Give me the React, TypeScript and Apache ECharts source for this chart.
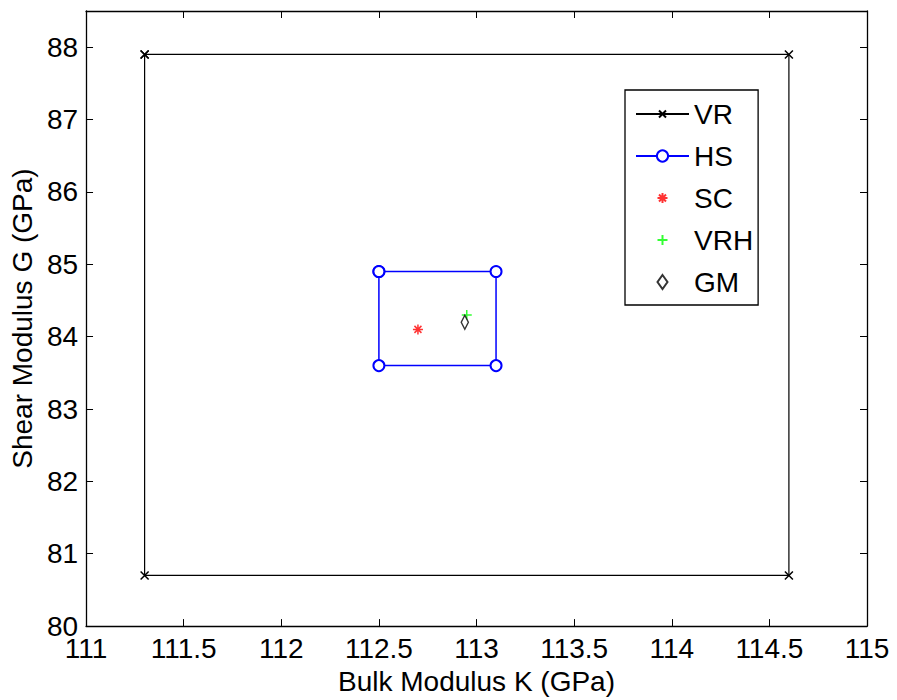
import React, { useEffect, useRef } from "react";
import * as echarts from "echarts";

const FONT = "'Liberation Sans', Arial, Helvetica, sans-serif";
const FS = 28;

const vrK = [111.3, 114.6, 114.6, 111.3, 111.3];
const vrG = [87.9, 87.9, 80.7, 80.7, 87.9];
const hsK = [112.5, 113.1, 113.1, 112.5, 112.5];
const hsG = [84.9, 84.9, 83.6, 83.6, 84.9];
const scPoint = [112.7, 84.1];
const vrhPoint = [112.95, 84.3];
const gmPoint = [112.94, 84.2];

const xMin = 111;
const xMax = 115;
const xStep = 0.5;
const yMin = 80;
const yMax = 88.5;
const yStep = 1;

// invisible moveTo points pad the symbol's bounding box
const X_SYMBOL = "path://M-3,-3M13,13M0,0L10,10M10,0L0,10";
const STAR_SYMBOL = "path://M-2,-2M12,12M5,0L5,10M0,5L10,5M1.5,1.5L8.5,8.5M8.5,1.5L1.5,8.5";
const PLUS_SYMBOL = "path://M-2,-2M12,12M5,0L5,10M0,5L10,5";
const DIAMOND_SYMBOL = "path://M5,0L10,7L5,14L0,7Z";

export default function App() {
  const ref = useRef<HTMLDivElement>(null);
  useEffect(() => {
    if (!ref.current) return;
    const chart = echarts.init(ref.current, undefined, { renderer: "svg" });
    const axisLine = { show: true, lineStyle: { color: "#000", width: 1.3 } };
    const tick = { show: true, inside: true, length: 7, lineStyle: { color: "#000", width: 1 } };
    const zip = (a: number[], b: number[]) => a.map((v, i) => [v, b[i]]);
    chart.setOption({
      animation: false,
      backgroundColor: "#fff",
      grid: { left: 86, top: 11, right: 30, bottom: 72, containLabel: false },
      xAxis: [
        {
          type: "value",
          min: xMin,
          max: xMax,
          interval: xStep,
          position: "bottom",
          name: "Bulk Modulus K (GPa)",
          nameLocation: "middle",
          nameGap: 40,
          nameTextStyle: { fontSize: FS, color: "#000", fontFamily: FONT },
          axisLine,
          axisTick: tick,
          splitLine: { show: false },
          axisLabel: {
            fontSize: FS,
            color: "#000",
            fontFamily: FONT,
            margin: 11,
            lineHeight: 22,
            formatter: (v: number) => String(v),
          },
        },
        {
          type: "value",
          min: xMin,
          max: xMax,
          interval: xStep,
          position: "top",
          axisLine,
          axisTick: tick,
          splitLine: { show: false },
          axisLabel: { show: false },
        },
      ],
      yAxis: [
        {
          type: "value",
          min: yMin,
          max: yMax,
          interval: yStep,
          position: "left",
          name: "Shear Modulus G (GPa)",
          nameLocation: "middle",
          nameGap: 47,
          nameTextStyle: { fontSize: FS, color: "#000", fontFamily: FONT },
          axisLine,
          axisTick: tick,
          splitLine: { show: false },
          axisLabel: {
            fontSize: FS,
            color: "#000",
            fontFamily: FONT,
            margin: 8,
            lineHeight: 20,
            formatter: (v: number) => (Number.isInteger(v) ? String(v) : ""),
          },
        },
        {
          type: "value",
          min: yMin,
          max: yMax,
          interval: yStep,
          position: "right",
          axisLine,
          axisTick: tick,
          splitLine: { show: false },
          axisLabel: { show: false },
        },
      ],
      legend: {
        orient: "vertical",
        left: 625,
        top: 90,
        selectedMode: false,
        backgroundColor: "#fff",
        borderColor: "#000",
        borderWidth: 1.3,
        borderRadius: 0,
        padding: [10, 5, 9, 10],
        itemWidth: 53,
        itemHeight: 14,
        itemGap: 14,
        textStyle: { fontSize: FS, color: "#000", fontFamily: FONT },
        data: ["VR", "HS", "SC", "VRH", "GM"],
      },
      series: [
        {
          name: "VR",
          type: "line",
          data: zip(vrK, vrG),
          symbol: X_SYMBOL,
          symbolSize: 12.8,
          showAllSymbol: true,
          lineStyle: { color: "#000", width: 1.2 },
          itemStyle: { color: "#000", borderColor: "#000", borderWidth: 1.5 },
          xAxisIndex: 0,
          yAxisIndex: 0,
        },
        {
          name: "HS",
          type: "line",
          data: zip(hsK, hsG),
          symbol: "emptyCircle",
          symbolSize: 11,
          showAllSymbol: true,
          lineStyle: { color: "#0000ff", width: 1.5 },
          itemStyle: { color: "#0000ff", borderColor: "#0000ff", borderWidth: 1.5 },
          xAxisIndex: 0,
          yAxisIndex: 0,
        },
        {
          name: "SC",
          type: "scatter",
          data: [scPoint],
          symbol: STAR_SYMBOL,
          symbolSize: 14,
          itemStyle: { color: "#ff0000", borderColor: "#ff0000", borderWidth: 1.5 },
          xAxisIndex: 0,
          yAxisIndex: 0,
        },
        {
          name: "VRH",
          type: "scatter",
          data: [vrhPoint],
          symbol: PLUS_SYMBOL,
          symbolSize: 14,
          itemStyle: { color: "#00ff00", borderColor: "#00ff00", borderWidth: 1.5 },
          xAxisIndex: 0,
          yAxisIndex: 0,
        },
        {
          name: "GM",
          type: "scatter",
          data: [gmPoint],
          symbol: DIAMOND_SYMBOL,
          symbolSize: [10, 14],
          symbolKeepAspect: true,
          itemStyle: { color: "#fff", borderColor: "#000", borderWidth: 1.5 },
          xAxisIndex: 0,
          yAxisIndex: 0,
        },
      ],
    });
    return () => chart.dispose();
  }, []);
  return (
    <div
      ref={ref}
      style={{ position: "absolute", left: 0, top: 0, width: 897, height: 700 }}
    />
  );
}
